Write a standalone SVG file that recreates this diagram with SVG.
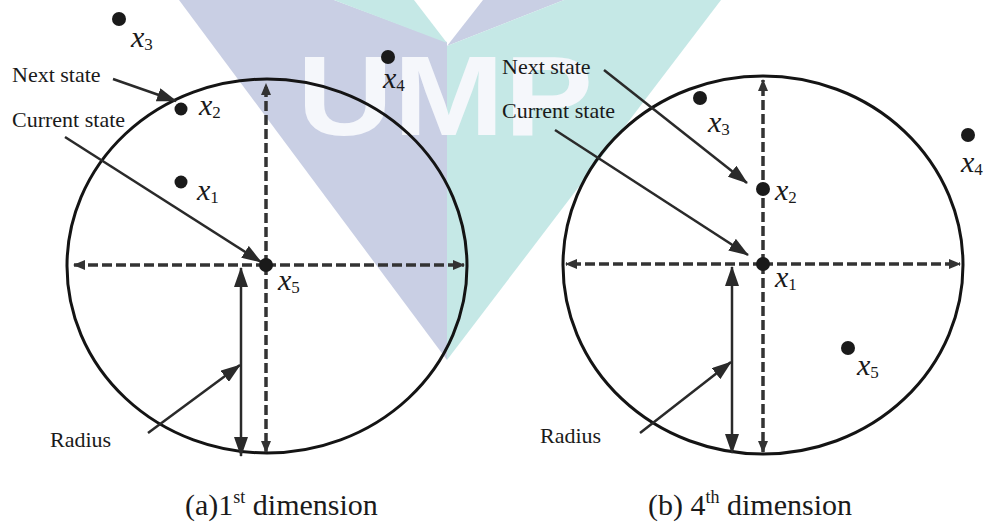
<svg xmlns="http://www.w3.org/2000/svg" width="988" height="522" viewBox="0 0 988 522">
<defs>
<style>
.lbl{font-family:"Liberation Serif","Times New Roman",serif;font-size:22px;fill:#1a1a1a}
.var{font-family:"Liberation Serif","Times New Roman",serif;font-size:30px;font-style:italic;fill:#1a1a1a}
.sub{font-size:17px;font-style:normal}
.cap{font-family:"Liberation Serif","Times New Roman",serif;font-size:30px;fill:#1a1a1a}
.circ{fill:none;stroke:#141414;stroke-width:3}
.dash{fill:none;stroke:#333;stroke-width:3.5;stroke-dasharray:10 4}
.arr{fill:none;stroke:#2a2a2a;stroke-width:2.5}
.dot{fill:#1a1a1a}
.wl{fill:#c9cfe4}
.wt{fill:#c5e8e6}
</style>
<marker id="ah" viewBox="0 0 20 14" refX="19" refY="7" markerWidth="20" markerHeight="14" markerUnits="userSpaceOnUse" orient="auto-start-reverse"><path d="M0,0 L20,7 L0,14 z" fill="#2a2a2a"/></marker>
<marker id="dh" viewBox="0 0 12 10" refX="11" refY="5" markerWidth="12" markerHeight="10" markerUnits="userSpaceOnUse" orient="auto-start-reverse"><path d="M0,0 L12,5 L0,10 z" fill="#333"/></marker>
</defs>
<rect width="988" height="522" fill="#ffffff"/>
<g id="watermark">
<polygon class="wl" points="179,0 334,0 447,42 447,360"/>
<polygon class="wt" points="334,0 414,0 447,43"/>
<polygon class="wl" points="483,0 564,0 447,46"/>
<polygon class="wt" points="564,0 721,0 447,360 447,46"/>
<text x="297" y="135" font-family="Liberation Sans, Arial, sans-serif" font-weight="bold" font-size="114" fill="#f5f7fb" textLength="296" lengthAdjust="spacingAndGlyphs">UMP</text>
</g>
<g id="circle-a"><ellipse class="circ" cx="267" cy="266" rx="200" ry="187"/></g>
<g id="circle-b"><ellipse class="circ" cx="763" cy="265" rx="200" ry="189"/></g>
<g id="connectors">
<line class="dash" x1="266" y1="265" x2="74" y2="265" marker-end="url(#dh)"/>
<line class="dash" x1="266" y1="265" x2="464" y2="265" marker-end="url(#dh)"/>
<line class="dash" x1="266" y1="265" x2="266" y2="84" marker-end="url(#dh)"/>
<line class="dash" x1="266" y1="265" x2="266" y2="452" marker-end="url(#dh)"/>
<line class="arr" x1="241" y1="268" x2="241" y2="456" marker-start="url(#ah)" marker-end="url(#ah)"/>
<line class="arr" x1="148" y1="433" x2="240" y2="365" marker-end="url(#ah)"/>
<line class="arr" x1="113" y1="79" x2="176" y2="101" marker-end="url(#ah)"/>
<line class="arr" x1="65" y1="137" x2="261" y2="262" marker-end="url(#ah)"/>
<line class="dash" x1="763" y1="264" x2="566" y2="264" marker-end="url(#dh)"/>
<line class="dash" x1="763" y1="264" x2="960" y2="264" marker-end="url(#dh)"/>
<line class="dash" x1="763" y1="264" x2="763" y2="80" marker-end="url(#dh)"/>
<line class="dash" x1="763" y1="264" x2="763" y2="452" marker-end="url(#dh)"/>
<line class="arr" x1="732" y1="267" x2="732" y2="453" marker-start="url(#ah)" marker-end="url(#ah)"/>
<line class="arr" x1="640" y1="433" x2="731" y2="362" marker-end="url(#ah)"/>
<line class="arr" x1="604" y1="70" x2="747" y2="183" marker-end="url(#ah)"/>
<line class="arr" x1="555" y1="130" x2="748" y2="255" marker-end="url(#ah)"/>
</g>
<g id="a-labels">
<text class="lbl" x="12" y="82">Next state</text>
<text class="lbl" x="12" y="127">Current state</text>
<text class="lbl" x="50" y="447">Radius</text>
</g>
<g id="a-x1"><circle class="dot" cx="181" cy="182" r="6.5"/><text class="var" x="197" y="200">x<tspan class="sub" dy="3">1</tspan></text></g>
<g id="a-x2"><circle class="dot" cx="181" cy="109" r="6.5"/><text class="var" x="199" y="115">x<tspan class="sub" dy="3">2</tspan></text></g>
<g id="a-x3"><circle class="dot" cx="119" cy="19" r="7"/><text class="var" x="131" y="47">x<tspan class="sub" dy="3">3</tspan></text></g>
<g id="a-x4"><circle class="dot" cx="388" cy="57" r="7"/><text class="var" x="383" y="88">x<tspan class="sub" dy="3">4</tspan></text></g>
<g id="a-x5"><circle class="dot" cx="266" cy="265" r="7"/><text class="var" x="278" y="290">x<tspan class="sub" dy="3">5</tspan></text></g>
<g id="b-labels">
<text class="lbl" x="502" y="74">Next state</text>
<text class="lbl" x="502" y="118">Current state</text>
<text class="lbl" x="540" y="443">Radius</text>
</g>
<g id="b-x1"><circle class="dot" cx="763" cy="264" r="7"/><text class="var" x="775" y="287">x<tspan class="sub" dy="3">1</tspan></text></g>
<g id="b-x2"><circle class="dot" cx="763" cy="189" r="7"/><text class="var" x="775" y="200">x<tspan class="sub" dy="3">2</tspan></text></g>
<g id="b-x3"><circle class="dot" cx="700" cy="98" r="7"/><text class="var" x="708" y="132">x<tspan class="sub" dy="3">3</tspan></text></g>
<g id="b-x4"><circle class="dot" cx="968" cy="135" r="7"/><text class="var" x="961" y="172">x<tspan class="sub" dy="3">4</tspan></text></g>
<g id="b-x5"><circle class="dot" cx="848" cy="348" r="7"/><text class="var" x="857" y="375">x<tspan class="sub" dy="3">5</tspan></text></g>
<g id="captions">
<text class="cap" x="185" y="515">(a)1<tspan font-size="18" dy="-12">st</tspan><tspan dy="12"> dimension</tspan></text>
<text class="cap" x="648" y="515">(b) 4<tspan font-size="18" dy="-12">th</tspan><tspan dy="12"> dimension</tspan></text>
</g>
</svg>
